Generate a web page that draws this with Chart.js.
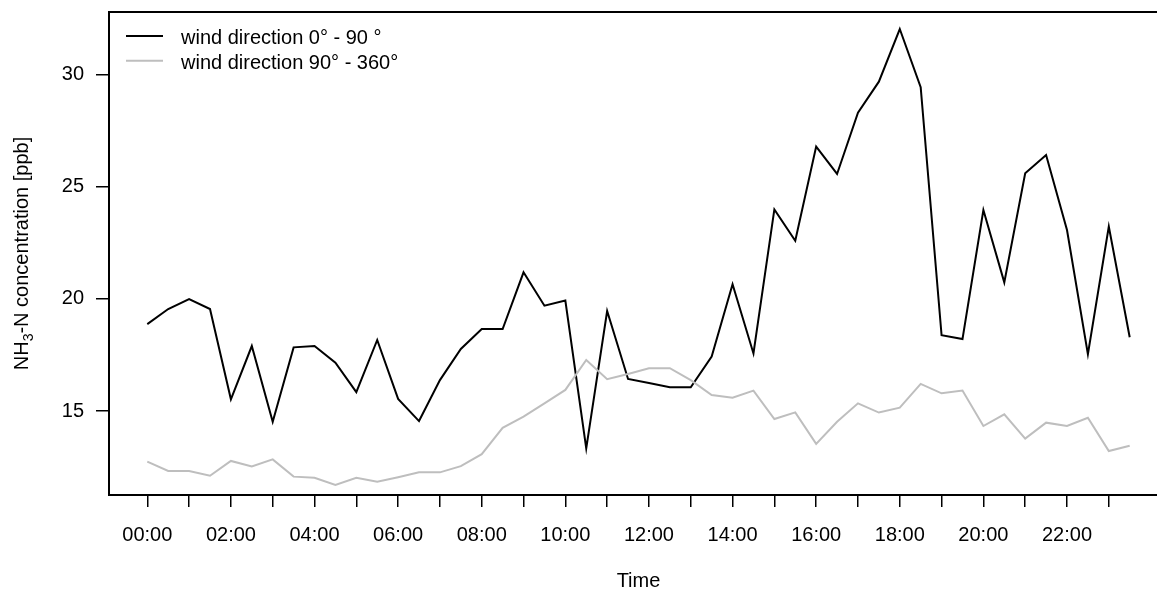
<!DOCTYPE html>
<html>
<head>
<meta charset="utf-8">
<script src="https://cdn.jsdelivr.net/npm/chart.js@4.4.1/dist/chart.umd.min.js"></script>
<style>
  html, body { margin: 0; padding: 0; overflow: hidden; background: #fff; }
  #wrap { width: 1200px; height: 589px; }
</style>
</head>
<body>
<div id="wrap"><canvas id="c" width="1200" height="589"></canvas></div>
<script>
// Half-hourly sampling times
const times = ["00:00","00:30","01:00","01:30","02:00","02:30","03:00","03:30",
  "04:00","04:30","05:00","05:30","06:00","06:30","07:00","07:30",
  "08:00","08:30","09:00","09:30","10:00","10:30","11:00","11:30",
  "12:00","12:30","13:00","13:30","14:00","14:30","15:00","15:30",
  "16:00","16:30","17:00","17:30","18:00","18:30","19:00","19:30",
  "20:00","20:30","21:00","21:30","22:00","22:30","23:00","23:30"];

// NH3-N concentration [ppb], wind from 0° - 90°
const nh3Dir0to90 = [18.88, 19.55, 19.99, 19.55, 15.52, 17.90, 14.52, 17.84,
  17.90, 17.16, 15.84, 18.17, 15.54, 14.55, 16.38, 17.77,
  18.66, 18.66, 21.19, 19.70, 19.93, 13.33, 19.46, 16.43,
  16.25, 16.06, 16.06, 17.43, 20.66, 17.57, 24.00, 22.60,
  26.80, 25.58, 28.32, 29.70, 32.05, 29.45, 18.38, 18.21,
  23.97, 20.74, 25.61, 26.43, 23.08, 17.54, 23.23, 18.29];

// NH3-N concentration [ppb], wind from 90° - 360°
const nh3Dir90to360 = [12.74, 12.32, 12.32, 12.11, 12.77, 12.52, 12.84, 12.07,
  12.02, 11.70, 12.02, 11.84, 12.04, 12.26, 12.26, 12.54,
  13.07, 14.25, 14.75, 15.34, 15.94, 17.28, 16.42, 16.65,
  16.91, 16.91, 16.38, 15.71, 15.59, 15.91, 14.64, 14.94,
  13.53, 14.52, 15.34, 14.93, 15.15, 16.21, 15.79, 15.91,
  14.33, 14.85, 13.77, 14.48, 14.33, 14.70, 13.21, 13.45];

const seriesNames = ["wind direction 0° - 90 °", "wind direction 90° - 360°"];
const seriesColors = ["#000000", "#bebebe"];

// Labelled hours on the time axis (every full hour gets a tick mark)
const tickLabels = ["00:00","02:00","04:00","06:00","08:00","10:00",
  "12:00","14:00","16:00","18:00","20:00","22:00"];
const yTicks = [15, 20, 25, 30];

const FONT = '"Liberation Sans", Arial, sans-serif';
const toHours = t => { const [h, m] = t.split(':').map(Number); return h + m / 60; };

Chart.defaults.font.family = FONT;
Chart.defaults.font.size = 20;
Chart.defaults.color = '#000';

// Box around the plot region, legend and axis titles
const decorations = {
  id: 'decorations',
  afterDraw(chart) {
    const { ctx, chartArea: a } = chart;
    ctx.save();
    ctx.strokeStyle = '#000';
    ctx.lineWidth = 2;
    ctx.strokeRect(a.left + 1, a.top, a.right - a.left, a.bottom - a.top);

    // legend
    ctx.font = '20px ' + FONT;
    ctx.textBaseline = 'alphabetic';
    ctx.textAlign = 'left';
    seriesNames.forEach((name, i) => {
      const y = 36 + i * 24.7;
      ctx.strokeStyle = seriesColors[i];
      ctx.lineWidth = 2;
      ctx.beginPath();
      ctx.moveTo(126, y);
      ctx.lineTo(163, y);
      ctx.stroke();
      ctx.fillStyle = '#000';
      ctx.fillText(name, 181, y + 8);
    });

    // x axis title
    ctx.textAlign = 'center';
    ctx.fillText('Time', (a.left + a.right) / 2, 587);

    // y axis title with subscript
    const parts = [['NH', 20, 0], ['3', 14, 5], ['-N concentration [ppb]', 20, 0]];
    let total = 0;
    parts.forEach(p => { ctx.font = p[1] + 'px ' + FONT; total += ctx.measureText(p[0]).width; });
    ctx.translate(27.5, (a.top + a.bottom) / 2);
    ctx.rotate(-Math.PI / 2);
    ctx.textAlign = 'left';
    let x = -total / 2;
    parts.forEach(p => {
      ctx.font = p[1] + 'px ' + FONT;
      ctx.fillText(p[0], x, p[2]);
      x += ctx.measureText(p[0]).width;
    });
    ctx.restore();
  }
};

new Chart(document.getElementById('c'), {
  type: 'line',
  data: {
    datasets: [
      {
        label: seriesNames[0],
        data: times.map((t, i) => ({ x: toHours(t), y: nh3Dir0to90[i] })),
        borderColor: seriesColors[0],
        borderWidth: 2,
        pointRadius: 0,
        tension: 0,
        fill: false,
        order: 1
      },
      {
        label: seriesNames[1],
        data: times.map((t, i) => ({ x: toHours(t), y: nh3Dir90to360[i] })),
        borderColor: seriesColors[1],
        borderWidth: 2,
        pointRadius: 0,
        tension: 0,
        fill: false,
        order: 0
      }
    ]
  },
  options: {
    responsive: false,
    animation: false,
    devicePixelRatio: 1,
    layout: { padding: { left: 0, top: 12, right: 31, bottom: 0 } },
    plugins: { legend: { display: false }, tooltip: { enabled: false } },
    scales: {
      x: {
        type: 'linear',
        min: -0.94,
        max: 24.44,
        afterBuildTicks: s => {
          s.ticks = times.filter(t => t.endsWith(':00')).map(t => ({ value: toHours(t) }));
        },
        afterFit: s => { s.height = 94; s.paddingLeft = 0; s.paddingRight = 0; },
        ticks: {
          autoSkip: false,
          maxRotation: 0,
          padding: 16,
          callback: v => {
            const t = times.find(tt => toHours(tt) === v);
            return tickLabels.includes(t) ? t : '';
          }
        },
        grid: { drawOnChartArea: false, drawTicks: true, tickLength: 12, color: '#000', lineWidth: 1.5 },
        border: { display: false }
      },
      y: {
        min: 11.25,
        max: 32.81,
        afterBuildTicks: s => { s.ticks = yTicks.map(v => ({ value: v })); },
        afterFit: s => { s.width = 108; s.paddingTop = 0; s.paddingBottom = 0; },
        ticks: { padding: 12, callback: v => String(v) },
        grid: { drawOnChartArea: false, drawTicks: true, tickLength: 12, color: '#000', lineWidth: 1.5 },
        border: { display: false }
      }
    }
  },
  plugins: [decorations]
});
</script>
</body>
</html>
